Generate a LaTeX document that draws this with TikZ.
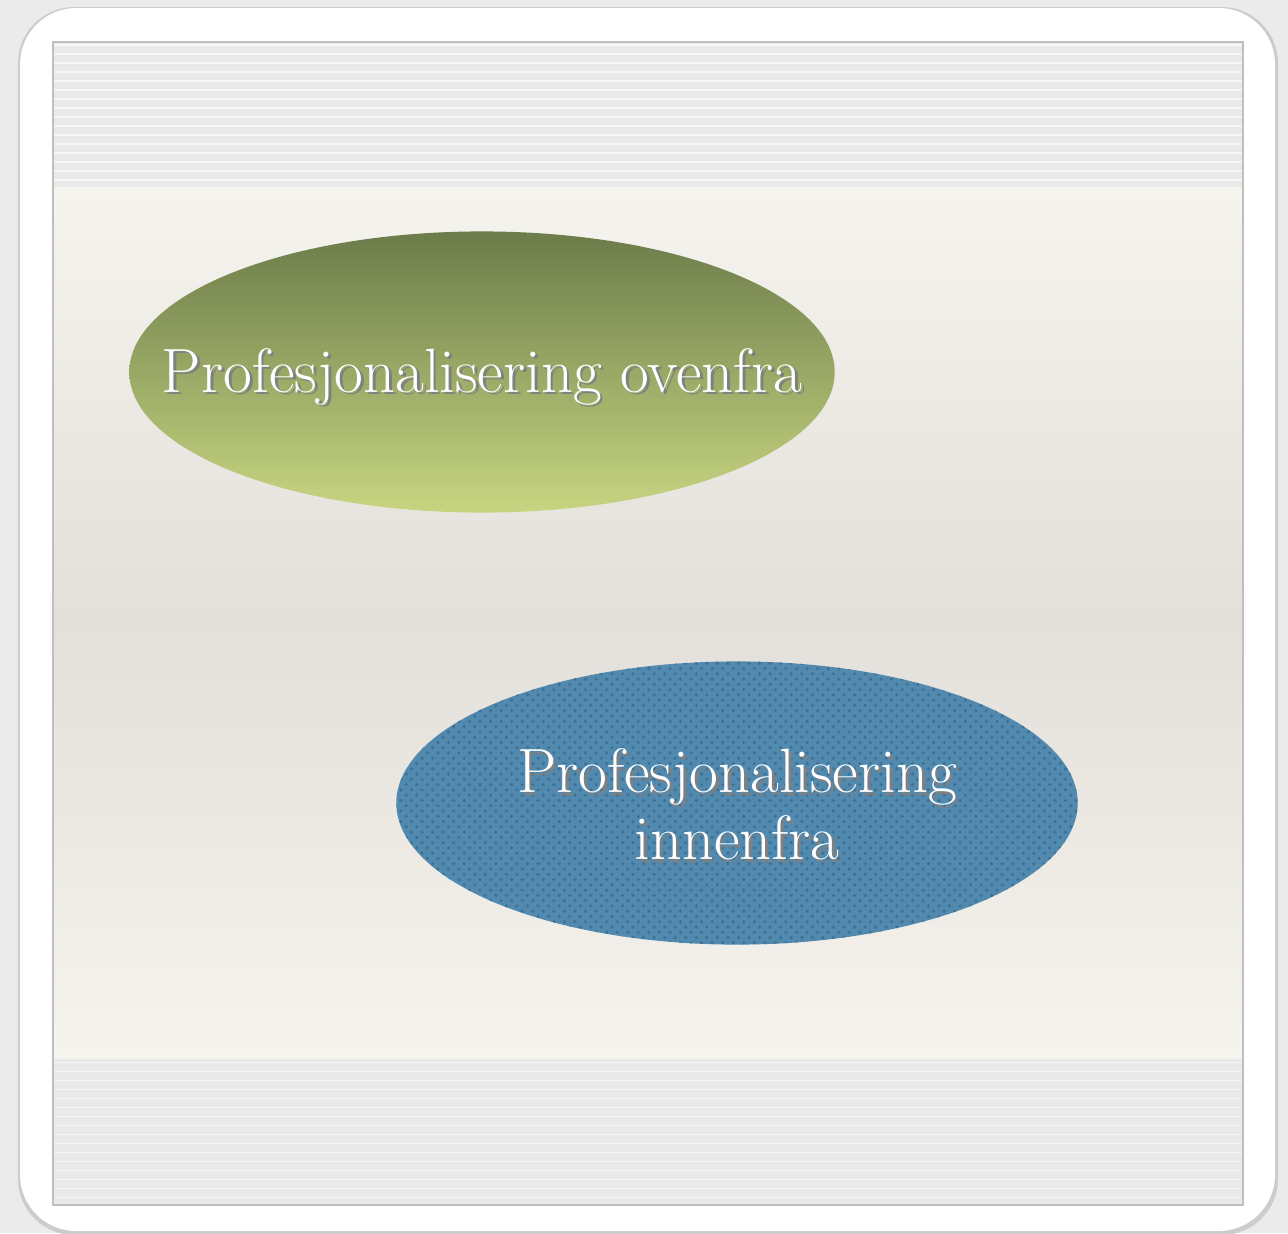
\documentclass[tikz,border=0pt]{standalone}
\usepackage{xcolor}
\usepackage{tikz}
\usetikzlibrary{shapes.geometric,patterns,positioning}

\definecolor{wallgray}{HTML}{EBEBEC}
\definecolor{stripegray}{HTML}{E9E9EA}
\definecolor{creamlight}{HTML}{F6F4EE}
\definecolor{creamdark}{HTML}{E3DFDA}
\definecolor{olivetop}{HTML}{6C7C4A}
\definecolor{olivebottom}{HTML}{C7D581}
\definecolor{clothblue}{HTML}{5189AF}
\definecolor{clothdark}{HTML}{3D7195}

\newcommand\embossed[1]{\leavevmode\rlap{\kern0.8pt\raisebox{-0.8pt}{\color{black!50}#1}}#1}

\tikzset{
  stripes/.style={white, line width=0.4pt, opacity=0.6, xstep=30cm, ystep=0.09cm},
  bubble/.style={ellipse, inner sep=0pt},
  caption/.style={text=white, align=center, inner sep=0pt,
    font=\fontsize{17.8}{19}\selectfont},
}

\begin{document}
\begin{tikzpicture}[x=0.01cm, y=-0.01cm]
        % Wall
        \fill[wallgray] (0,0) rectangle (1288,1233);
        \useasboundingbox (0,0) rectangle (1288,1233);

        % Frame
        \fill[gray!40] (18,7) [rounded corners=16] rectangle (1278,1235);
        \fill[white] (20,8) [rounded corners=16] rectangle (1275,1231);

        % Panel bands
        \fill[stripegray] (53,42) rectangle (1243,187);
        \draw[stripes] (53,42) grid (1243,187);
        \fill[stripegray] (53,1058) rectangle (1243,1205);
        \draw[stripes] (53,1058) grid (1243,1205);
        \shade[top color=creamlight, bottom color=creamlight, middle color=creamdark]
          (53,187) rectangle (1243,1058);
        \draw[gray!50, thin] (53,42) rectangle (1243,1205);

        % Ovals
        \node[bubble, minimum width=7.05cm, minimum height=2.81cm,
          top color=olivetop, bottom color=olivebottom] (ovenfra) at (482,372) {};
        \node[bubble, minimum width=6.81cm, minimum height=2.83cm,
          fill=clothblue, postaction={pattern=crosshatch dots, pattern color=clothdark}]
          (innenfra) at (737,803) {};

        % Captions
        \node[caption, anchor=base] (ovenfra-txt) at (482,392)
          {\embossed{Profesjonalisering ovenfra}};
        \node[caption, anchor=center] (innenfra-txt) at (737,806)
          {\embossed{Profesjonalisering}\\\embossed{innenfra}};
      \end{tikzpicture}
\end{document}
